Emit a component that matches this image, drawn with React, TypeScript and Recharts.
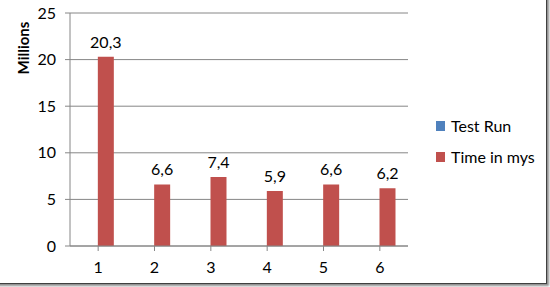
import { BarChart, Bar, XAxis, YAxis, CartesianGrid, LabelList } from "recharts";

const runs = ["1", "2", "3", "4", "5", "6"];
const testRun = [1, 2, 3, 4, 5, 6];
const timeInMys = [20300000, 6600000, 7400000, 5900000, 6600000, 6200000];
const yTicks = [0, 5000000, 10000000, 15000000, 20000000, 25000000];

const data = runs.map((r, i) => ({ run: r, test: testRun[i], time: timeInMys[i] }));

const font = "Lato, 'Open Sans', sans-serif";
const gridColor = "#868686";

function fmtMillions(v: number) {
  return (v / 1000000).toFixed(1).replace(".", ",");
}

export default function App() {
  return (
    <div style={{ position: "relative", width: 550, height: 287, fontFamily: font, background: "#fff", overflow: "hidden" }}>
      <style>{"body{margin:0}"}</style>
      <BarChart
        width={550}
        height={287}
        data={data}
        margin={{ top: 13, right: 142, bottom: 11, left: 0 }}
        barGap={0}
        barCategoryGap="21%"
      >
        <CartesianGrid vertical={false} stroke={gridColor} strokeWidth={1} />
        <XAxis
          dataKey="run"
          height={30}
          axisLine={{ stroke: gridColor }}
          tickLine={{ stroke: gridColor }}
          tickSize={5}
          tickMargin={11}
          interval={0}
          tick={{ fontSize: 16, fill: "#000", fontFamily: font }}
        />
        <YAxis
          width={70}
          domain={[0, 25000000]}
          ticks={yTicks}
          interval={0}
          axisLine={{ stroke: gridColor }}
          tickLine={{ stroke: gridColor }}
          tickSize={5}
          tickMargin={9}
          tickFormatter={(v: number) => `${v / 1000000}`}
          tick={{ fontSize: 16, fill: "#000", fontFamily: font }}
        />
        <Bar dataKey="test" fill="#4F81BD" isAnimationActive={false} />
        <Bar dataKey="time" fill="#C0504D" isAnimationActive={false}>
          <LabelList
            dataKey="time"
            position="top"
            offset={9}
            formatter={(v: number) => fmtMillions(v)}
            style={{ fontSize: 16, fill: "#000", fontFamily: font }}
          />
        </Bar>
      </BarChart>
      <div
        style={{
          position: "absolute",
          left: 23,
          top: 48,
          transform: "translate(-50%, -50%) rotate(-90deg)",
          fontSize: 15,
          fontWeight: 700,
          color: "#000",
          whiteSpace: "nowrap",
        }}
      >
        Millions
      </div>
      <div style={{ position: "absolute", left: 436, top: 114, fontSize: 16, color: "#000", lineHeight: "24px" }}>
        {[
          { name: "Test Run", color: "#4F81BD" },
          { name: "Time in mys", color: "#C0504D" },
        ].map((it, i) => (
          <div key={it.name} style={{ display: "flex", alignItems: "center", height: 24, marginTop: i ? 7 : 0 }}>
            <span style={{ display: "inline-block", width: 9, height: 10, background: it.color, marginRight: 6 }} />
            <span>{it.name}</span>
          </div>
        ))}
      </div>
      <div
        style={{
          position: "absolute",
          left: -4,
          top: -4,
          width: 550,
          height: 287,
          borderRight: "1px solid #404040",
          borderBottom: "1px solid #404040",
          boxShadow: "2px 2px 2px rgba(0,0,0,0.45)",
          pointerEvents: "none",
        }}
      />
    </div>
  );
}
